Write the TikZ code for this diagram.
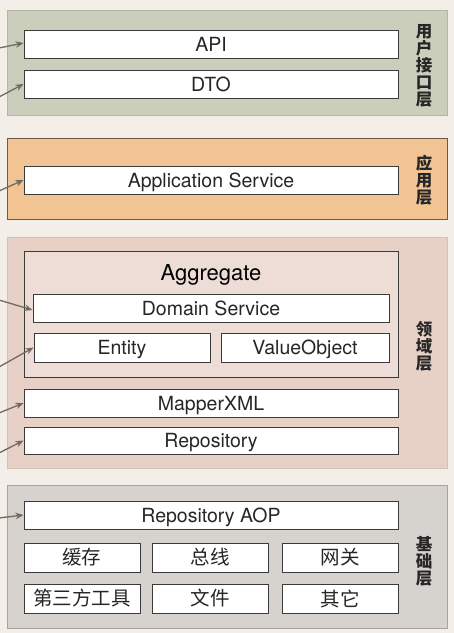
\documentclass[tikz,border=0pt]{standalone}
\usepackage{fontspec}
\setmainfont{TeX Gyre Heros}
\newfontfamily\cjk{Noto Sans CJK SC}
\usetikzlibrary{arrows.meta}
\definecolor{bgcol}{HTML}{F3EEE7}
\definecolor{lone}{HTML}{CACEBA}
\definecolor{loneb}{HTML}{B3B6A6}
\definecolor{ltwo}{HTML}{F2C393}
\definecolor{ltwob}{HTML}{6A5A4A}
\definecolor{lthree}{HTML}{E7D0C6}
\definecolor{lthreeb}{HTML}{D6C0B5}
\definecolor{aggfill}{HTML}{EEDDD6}
\definecolor{lfour}{HTML}{D6D3CE}
\definecolor{lfourb}{HTML}{A8A5A0}
\definecolor{boxline}{HTML}{3A3A3A}
\definecolor{arrcol}{HTML}{6E6B60}
\begin{document}
\begin{tikzpicture}[x=1pt,y=-1pt,
  layerbg/.style={line width=0.8pt},
  box/.style={draw=boxline, fill=white, line width=0.9pt, rectangle, inner sep=0pt,
    minimum height=28pt, text height=14pt, text depth=0pt, text=black!85, font=\fontsize{19.5}{20}\selectfont},
  cbox/.style={draw=boxline, fill=white, line width=0.9pt, rectangle, inner sep=0pt,
    minimum height=29pt, text=black!85, font=\cjk\fontsize{19.5}{20}\selectfont},
  sidelabel/.style={align=center, inner sep=0pt, font=\cjk\bfseries\fontsize{16.5}{17}\selectfont, text=black!85},
  feed/.style={draw=arrcol, line width=1.3pt, -{Stealth[length=8pt,width=6.5pt]}}
]
\useasboundingbox (0,0) rectangle (454,633);
\fill[bgcol] (0,0) rectangle (454,633);
% layers
\filldraw[layerbg, fill=lone, draw=loneb] (7,10) rectangle (447,115);
\filldraw[layerbg, fill=ltwo, draw=ltwob] (7,138) rectangle (447,219);
\filldraw[layerbg, fill=lthree, draw=lthreeb] (7,237) rectangle (447,468);
\filldraw[layerbg, fill=lfour, draw=lfourb] (7,485) rectangle (447,628);
% side labels
\node[sidelabel] (lbl1) at (424,66) {用\\户\\接\\口\\层};
\node[sidelabel] (lbl2) at (424,180) {应\\用\\层};
\node[sidelabel] (lbl3) at (424,346) {领\\域\\层};
\node[sidelabel] (lbl4) at (424,561) {基\\础\\层};
% user interface
\node[box, minimum width=374pt] (api) at (211,44) {API};
\node[box, minimum width=374pt] (dto) at (211,84) {DTO};
% application
\node[box, minimum width=374pt] (app) at (211,180) {Application Service};
% domain
\node[draw=boxline, fill=aggfill, line width=0.9pt, rectangle, minimum width=374pt, minimum height=126pt, inner sep=0pt] (agg) at (211,314) {};
\node[font=\fontsize{22}{22}\selectfont, text height=16pt, text depth=0pt, inner sep=0pt] (aggt) at (211,272) {Aggregate};
\node[box, minimum width=356pt] (ds) at (211,308) {Domain Service};
\node[box, minimum width=176pt, minimum height=29pt] (ent) at (122,347.5) {Entity};
\node[box, minimum width=168pt, minimum height=29pt] (vo) at (305,347.5) {ValueObject};
\node[box, minimum width=374pt] (map) at (211,403) {MapperXML};
\node[box, minimum width=374pt, minimum height=27pt] (rep) at (211,440.5) {Repository};
% infrastructure
\node[box, minimum width=374pt] (aop) at (211,515) {Repository AOP};
\node[cbox, minimum width=116pt] (c1) at (82,557.5) {缓存};
\node[cbox, minimum width=116pt] (c2) at (210,557.5) {总线};
\node[cbox, minimum width=116pt] (c3) at (340,557.5) {网关};
\node[cbox, minimum width=116pt] (c4) at (82,598.5) {第三方工具};
\node[cbox, minimum width=116pt] (c5) at (210,598.5) {文件};
\node[cbox, minimum width=116pt] (c6) at (340,598.5) {其它};
% arrows
\coordinate (s1) at (-1,48);
\coordinate (s2) at (-1,97);
\coordinate (s3) at (-1,191);
\coordinate (s4) at (-1,300);
\coordinate (s5) at (-1,367);
\coordinate (s6) at (-1,413);
\coordinate (s7) at (-1,453);
\coordinate (s8) at (-1,518);
\draw[feed] (s1) -- ([yshift=1pt]api.west);
\draw[feed] (s2) -- (dto.west);
\draw[feed] (s3) -- (app.west);
\draw[feed] (s4) -- ([yshift=-2pt]ds.west);
\draw[feed] (s5) -- (ent.west);
\draw[feed] (s6) -- (map.west);
\draw[feed] (s7) -- (rep.west);
\draw[feed] (s8) -- (aop.west);
\end{tikzpicture}
\end{document}
